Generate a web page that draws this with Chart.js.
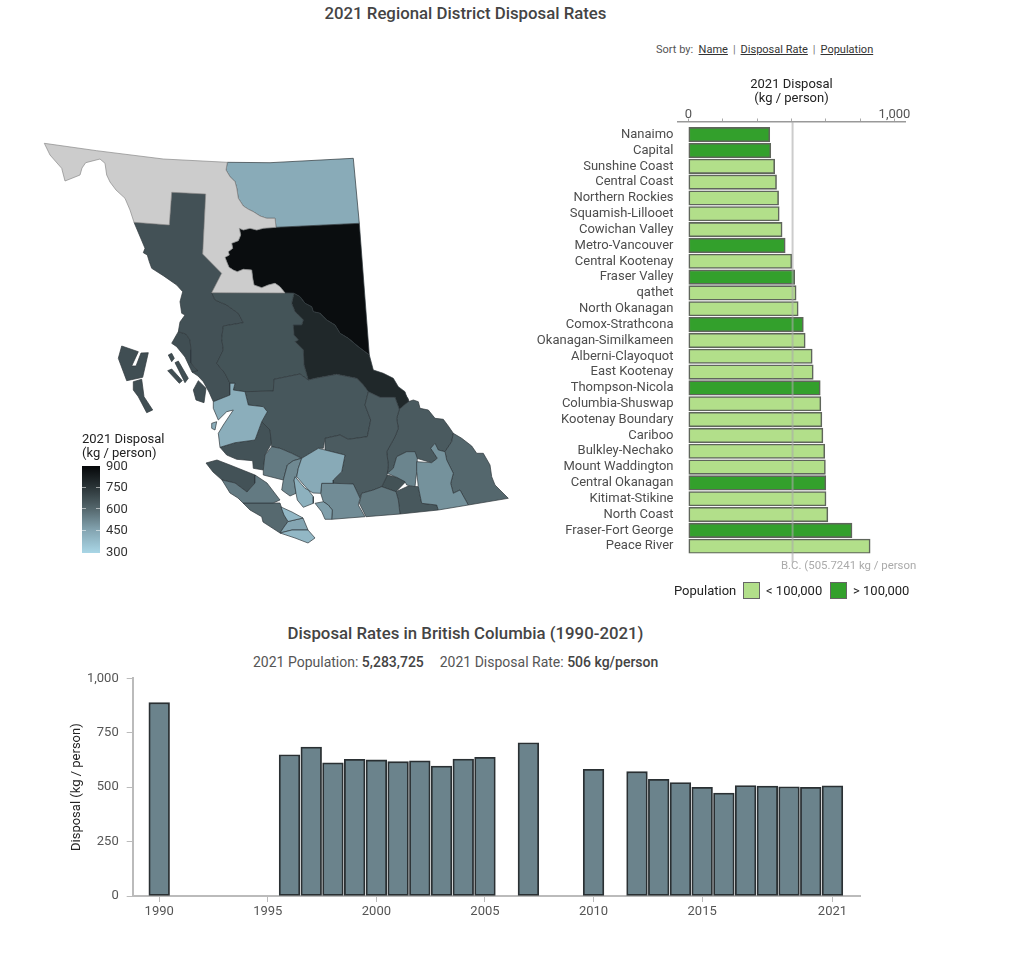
<!DOCTYPE html>
<html>
<head>
<meta charset="utf-8">
<title>2021 Regional District Disposal Rates</title>
<script src="https://cdn.jsdelivr.net/npm/chart.js@4"></script>
<style>
  html, body { margin: 0; background: #fff; }
  #page { position: relative; width: 1018px; height: 953px; overflow: hidden; font-family: Roboto, sans-serif; color: #4d4d4d; }
  #page canvas { position: absolute; display: block; }
  .txt { position: absolute; white-space: nowrap; line-height: 1; }
  .title { left: 0; width: 931px; text-align: center; font-size: 16.8px; font-weight: 500; color: #444; }
  .sw { position: absolute; width: 15px; height: 14.5px; border: 1px solid #666; }
  .sort a { color: #333; text-decoration: underline; }
  .sort span { color: #777; margin: 0 5px; }
</style>
</head>
<body>
<div id="page">
  <div class="txt title" style="top:5px">2021 Regional District Disposal Rates</div>
  <div class="txt sort" style="left:656px;top:44px;font-size:11px;color:#555">Sort by: &nbsp;<a>Name</a><span>|</span><a>Disposal Rate</a><span>|</span><a>Population</a></div>

  <canvas id="mapChart" width="490" height="430" style="left:30px;top:130px"></canvas>
  <div class="txt" style="left:82px;top:432px;font-size:13px;line-height:14px;color:#222">2021 Disposal<br>(kg / person)</div>
  <div id="rampBar" style="position:absolute;left:82px;top:466px;width:18px;height:87px"></div>
  <div id="rampTicks"></div>

  <canvas id="barChart" width="420" height="500" style="left:520px;top:75px"></canvas>
  <div class="txt" style="left:781px;top:559.5px;font-size:11.4px;color:#aaa">B.C. (505.7241 kg / person</div>
  <div class="txt" style="left:674px;top:584px;font-size:13px;color:#222">Population</div>
  <div class="sw" style="left:743px;top:582px;background:#b2df8a"></div>
  <div class="txt" style="left:766px;top:584px;font-size:13px;color:#222">&lt; 100,000</div>
  <div class="sw" style="left:830px;top:582px;background:#33a02c"></div>
  <div class="txt" style="left:853px;top:584px;font-size:13px;color:#222">&gt; 100,000</div>

  <div class="txt title" style="top:625px">Disposal Rates in British Columbia (1990-2021)</div>
  <div class="txt" style="left:253px;top:655px;font-size:14px;color:#555">2021 Population: <b style="font-weight:500;color:#444">5,283,725</b> &nbsp;&nbsp; <span style="margin-left:2px">2021 Disposal Rate: </span><b style="font-weight:500;color:#444">506 kg/person</b></div>
  <canvas id="yearChart" width="830" height="270" style="left:50px;top:660px"></canvas>
</div>

<script>
/* ---------- Data: regional districts ---------- */
const districtNames = ["Nanaimo", "Capital", "Sunshine Coast", "Central Coast", "Northern Rockies", "Squamish-Lillooet", "Cowichan Valley", "Metro-Vancouver", "Central Kootenay", "Fraser Valley", "qathet", "North Okanagan", "Comox-Strathcona", "Okanagan-Similkameen", "Alberni-Clayoquot", "East Kootenay", "Thompson-Nicola", "Columbia-Shuswap", "Kootenay Boundary", "Cariboo", "Bulkley-Nechako", "Mount Waddington", "Central Okanagan", "Kitimat-Stikine", "North Coast", "Fraser-Fort George", "Peace River"];
const districtRates = [395, 400, 419, 428, 438, 441, 455, 470, 502, 516, 523, 533, 558, 567, 601, 606, 640, 643, 648, 653, 662, 665, 667, 668, 677, 794, 882];
const overHundredK = ["Nanaimo", "Capital", "Metro-Vancouver", "Fraser Valley", "Comox-Strathcona", "Thompson-Nicola", "Central Okanagan", "Fraser-Fort George"];
const rateTicks = [0, 166.67, 333.33, 500, 666.67, 833.33, 1000];
const bcRate = 505.7241;

/* ---------- Data: province by year ---------- */
const years = [1990, 1996, 1997, 1998, 1999, 2000, 2001, 2002, 2003, 2004, 2005, 2007, 2010, 2012, 2013, 2014, 2015, 2016, 2017, 2018, 2019, 2020, 2021];
const yearRates = [888, 649, 684, 612, 628, 625, 617, 621, 597, 629, 637, 704, 582, 571, 536, 521, 499, 473, 507, 505, 502, 499, 506];
const yearTicks = [1990, 1995, 2000, 2005, 2010, 2015, 2021];
const yearRateTicks = [0, 250, 500, 750, 1000];

/* ---------- Data: colour legend ---------- */
const rampValues = [300, 450, 600, 750, 900];
const rampColors = ["#a9d6e6", "#86a7b4", "#56696f", "#2b3538", "#050709"];

/* ---------- Data: map outlines, [x, y] in map units, grouped by district ---------- */
// shared edges first, so neighbours stay in step
const rockiesEdge = [[227.3,162.3],[226,170],[230,176.7],[235,181.7],[236.7,188],[238.3,198.3],[243.3,206],[248.3,209.3],[253.3,211.7],[260,216],[266.7,218.3],[275,218.3],[276,227.3]];
const peaceWestEdge = [[276,227.3],[263.3,228.3],[256.7,230],[250,228.3],[243.3,230],[239.3,228.3],[240.7,235],[238.3,240.7],[231.7,243.3],[232.7,248.3],[228.3,251.7],[229.3,255],[225,257.3],[226.7,261.7],[229,267.3],[233.3,270],[237.3,271.7],[243.3,269.3],[251.7,270],[252.7,278.3],[254,285],[261.7,287.7],[268.3,285],[275,283.3],[280,286.7],[285,293]];
const peaceGeorgeEdge = [[294,293.3],[300,296.7],[305,303.3],[311.7,306.7],[313.3,311.7],[320,313.3],[326.7,320],[335,325],[340,333.3],[348.3,338.3],[358.3,346.7],[369.3,355]];

const stikineShape = [[44.3,143.3],[96.7,150.7],[163.3,159],...rockiesEdge,...peaceWestEdge,[211.7,292.7],[221.7,273.3],[202.7,254],[205.7,194],[171.7,192.3],[169.3,225],[134,222.3],[130,210],[125,198.3],[116,190],[110,182],[106.7,175],[105,163.3],[100,159],[85.7,162.7],[82,168],[80,175],[65,181],[61.7,168.3],[50,155]];
const northernRockiesShape = [[270,162.7],[353.3,158.3],[359.3,223.3],...[...rockiesEdge].reverse()];
const peaceRiverShape = [[359.3,223.3],[369.3,355],...[...peaceGeorgeEdge].reverse(),...[...peaceWestEdge].reverse()];
const peaceRiverTip = [[403,391],[408.3,399],[409,402],[403.5,405],[399,396]];
const fraserFortGeorgeShape = [...peaceGeorgeEdge,[373.3,370],[383.3,373.3],[393.3,378.3],[398.3,386.7],[405,391.7],[408.3,401.7],[399.3,409.3],[395,397.3],[380,397.3],[368.3,391.7],[363.3,385],[356.7,378.3],[336.7,374.3],[315,378.3],[308.3,380],[304,365],[303.3,350],[295,341.7],[298.3,340],[294,335],[293.3,325],[301.7,325],[303.3,320],[295,311.7],[291.7,303.3]];
const bulkleyShape = [[211.7,292.7],[285,293],[294,293.3],[291.7,303.3],[295,311.7],[303.3,320],[301.7,325],[293.3,325],[294,335],[298.3,340],[295,341.7],[303.3,350],[304,365],[308.3,380],[300,374],[274,379.3],[273.3,391],[245,391.7],[233.3,390],[235,383.3],[230,383.3],[225,373.3],[216.7,363.3],[223.3,350],[221.7,338.3],[223.3,326],[243.3,322.7],[238.3,313.3],[226.7,305],[215,300]];
const kitimatShape = [[134,222.3],[169.3,225],[171.7,192.3],[205.7,194],[202.7,254],[221.7,273.3],[211.7,292.7],[215,300],[226.7,305],[238.3,313.3],[243.3,322.7],[223.3,326],[221.7,338.3],[223.3,350],[216.7,363.3],[225,373.3],[230,383.3],[230,395],[213.3,401.7],[209,392],[203.3,381.7],[198,376],[192,372],[198,371],[191,363],[191,350],[190,340],[186,334],[178.3,331.7],[180,322],[185,315],[181.7,313.3],[180,301.7],[182.7,291.7],[176.7,285],[163.3,275.7],[151.7,268.3],[149.3,261.7],[147.3,255],[143.3,252.7],[145,248.3]];
const northCoastStrip = [[178.3,331.7],[186,334],[190,340],[191,350],[191,363],[198,371],[192,372],[185,357],[176.7,346.7],[171.7,343.3]];
const haidaNorth = [[121.7,346],[138.3,351.7],[131.7,366],[136,366],[141,353],[148.3,352.7],[142.7,377.3],[126.7,380.7],[118.3,358.3]];
const haidaSouth = [[133.3,381.7],[141.7,379.3],[144,396.7],[152.7,410],[146.7,412.7],[138.3,396.7],[133.3,390]];
const coastIsleA = [[168.3,355],[171.7,353.3],[174.3,358.3],[171.7,361.7]];
const coastIsleB = [[167.7,370.7],[171.7,369],[182.3,380.7],[179.3,383.3]];
const coastIsleC = [[175,362.7],[178.3,361],[188.3,378.3],[185,382.7]];
const coastIsleD = [[198.3,380.7],[206,388.3],[204,402.7],[196,400],[193.3,390]];
const centralCoastShape = [[213.3,401.7],[230,395],[230,383.3],[235,383.3],[233.3,390],[245,391.7],[248.3,405],[263.3,406.7],[267.3,411.7],[261.7,421.7],[255,440],[235,442.7],[220,447.3],[218.3,433.3],[223.3,425],[233.3,410],[226.7,411.7],[218.3,420],[213.3,408.3]];
const centralCoastIsle = [[211.7,423.3],[216.7,421.7],[215,430],[211.7,428.3]];
const waddingtonMainland = [[220,447.3],[235,442.7],[255,440],[261.7,421.7],[270,430],[271.7,443.3],[265,455],[263.3,470],[253.3,468.3],[252.7,460.7],[236.7,459.3],[226.7,455]];
const waddingtonIsland = [[206,463],[217,460],[230,465],[255,475],[255,483],[247,492],[235,483],[222,480],[213,472]];
const comoxIsland = [[222,480],[235,483],[247,492],[255,483],[255,475],[267,483],[280,500],[273,503],[247,503],[243,503],[238,498],[230,493]];
const comoxMainland = [[271.7,446.7],[280,448.3],[291.7,453.3],[301.7,458.3],[293.3,460.7],[287.3,465],[283.3,480],[263.3,475],[263.3,470],[265,455]];
const alberniShape = [[243,503],[273,503],[280,503],[284,515],[288,521.5],[284,527],[280,533],[263,522],[261.7,516.7],[250,510]];
const nanaimoShape = [[281,507],[292,512],[303,518],[288,521.5],[284,515]];
const cowichanShape = [[288,521.5],[303,518],[308,530],[292,530],[280,533],[284,527]];
const capitalShape = [[280,533],[292,530],[308,530],[315,538],[308,543],[295,538]];
const caribooShape = [[245,391.7],[273.3,391],[274,379.3],[300,374],[308.3,380],[315,378.3],[336.7,374.3],[356.7,378.3],[363.3,385],[368.3,391.7],[365,405],[370.7,420],[367.3,436.7],[348.3,439.3],[340,435],[325,438.3],[323.3,448.3],[318.3,448.3],[301.7,458.3],[291.7,453.3],[280,448.3],[271.7,446.7],[270,430],[261.7,421.7],[267.3,411.7],[263.3,406.7],[248.3,405]];
const squamishShape = [[301.7,458.3],[318.3,448.3],[325,450],[345,455],[341.7,471.7],[333.3,480],[333.3,483.3],[321.7,483.3],[320.7,493.3],[313,493],[308.3,490],[296.7,476.7],[298.3,468.3]];
const qathetShape = [[293.3,460.7],[301.7,458.3],[298.3,468.3],[296.7,476.7],[294,480],[296,493.3],[290,496],[281.7,490],[283.3,480],[287.3,465]];
const sunshineShape = [[295,476.7],[305,488.3],[308.3,490],[313.3,496.7],[313.3,503.3],[303.3,507.3],[297.3,500],[296,493.3],[294,480]];
const metroShape = [[315,503.3],[323.3,501.7],[328.3,505],[332.3,510],[331.7,519.3],[325,519.3],[321.7,511.7]];
const fraserValleyShape = [[321.7,483.3],[333.3,483.3],[353.3,484],[360,498.3],[358.3,505],[365,516.7],[331.7,519.3],[332.3,510],[328.3,505],[323.3,501.7],[320.7,493.3]];
const thompsonShape = [[368.3,391.7],[380,397.3],[395,397.3],[399.3,409.3],[396.7,418.3],[398.3,428.3],[395,436.7],[386.7,451.7],[388.3,465],[387.3,473.3],[386.7,476.7],[381.7,486.7],[373.3,490],[361.7,493.3],[360,498.3],[353.3,484],[333.3,483.3],[333.3,480],[341.7,471.7],[345,455],[325,450],[325,438.3],[340,435],[348.3,439.3],[367.3,436.7],[370.7,420],[365,405]];
const columbiaShape = [[399.3,409.3],[408.3,401.7],[413.3,400],[418.3,401.7],[420,408.3],[428.3,410],[435,418.3],[443.3,419.3],[448.3,426],[453.3,433.3],[451.7,441.7],[445,451.7],[438.3,450],[435,443.3],[430.7,448.3],[437.3,458.3],[431.7,462.7],[416.7,458.3],[415,451.7],[406.7,451.7],[396.7,456.7],[393.3,468.3],[387.3,473.3],[388.3,465],[386.7,451.7],[395,436.7],[398.3,428.3],[396.7,418.3]];
const northOkanaganShape = [[396.7,456.7],[406.7,451.7],[415,451.7],[417.3,458.3],[416.7,471.7],[415,486.7],[406.7,485],[405,481.7],[396.7,477.3],[387.3,473.3],[393.3,468.3]];
const centralOkanaganShape = [[387.3,475],[396.7,477.3],[406.7,480.7],[396,491.7],[381.7,486.7]];
const kootenayBoundaryShape = [[396,491.7],[408.3,486],[418.3,486.7],[421.7,503.3],[436.7,505],[438.3,510],[400,514],[398.3,500]];
const similkameenShape = [[361.7,493.3],[373.3,490],[381.7,486.7],[396,491.7],[398.3,500],[400,514],[366,516.7],[359.3,503.3]];
const centralKootenayShape = [[416.7,461.7],[431.7,462.7],[437.3,458.3],[430.7,448.3],[435,443.3],[438.3,450],[445,451.7],[446.7,460],[453.3,473.3],[450.7,483.3],[453.3,493.3],[460,490],[468.3,505],[438.3,510],[436.7,505],[421.7,503.3],[418.3,486.7],[416.7,471.7]];
const eastKootenayShape = [[453.3,433.3],[461.7,438.3],[471.7,446],[476.7,453.3],[483.3,453.3],[490,465],[491.7,476.7],[495,485],[508.3,498.3],[468.3,505],[460,490],[453.3,493.3],[450.7,483.3],[453.3,473.3],[446.7,460],[445,451.7],[451.7,441.7]];

const districtShapes = {
  "Northern Rockies": [northernRockiesShape],
  "Peace River": [peaceRiverShape, peaceRiverTip],
  "Fraser-Fort George": [fraserFortGeorgeShape],
  "Bulkley-Nechako": [bulkleyShape],
  "Kitimat-Stikine": [kitimatShape],
  "North Coast": [northCoastStrip, haidaNorth, haidaSouth, coastIsleA, coastIsleB, coastIsleC, coastIsleD],
  "Central Coast": [centralCoastShape, centralCoastIsle],
  "Mount Waddington": [waddingtonMainland, waddingtonIsland],
  "Comox-Strathcona": [comoxIsland, comoxMainland],
  "Alberni-Clayoquot": [alberniShape],
  "Nanaimo": [nanaimoShape],
  "Cowichan Valley": [cowichanShape],
  "Capital": [capitalShape],
  "Cariboo": [caribooShape],
  "Squamish-Lillooet": [squamishShape],
  "qathet": [qathetShape],
  "Sunshine Coast": [sunshineShape],
  "Metro-Vancouver": [metroShape],
  "Fraser Valley": [fraserValleyShape],
  "Thompson-Nicola": [thompsonShape],
  "Columbia-Shuswap": [columbiaShape],
  "North Okanagan": [northOkanaganShape],
  "Central Okanagan": [centralOkanaganShape],
  "Kootenay Boundary": [kootenayBoundaryShape],
  "Okanagan-Similkameen": [similkameenShape],
  "Central Kootenay": [centralKootenayShape],
  "East Kootenay": [eastKootenayShape],
};

/* ---------- Shared helpers ---------- */
Chart.defaults.font.family = "Roboto, sans-serif";
Chart.defaults.animation = false;
Chart.defaults.devicePixelRatio = 1;
Chart.defaults.plugins.legend.display = false;
Chart.defaults.plugins.tooltip.enabled = false;

function hexToRgb(hex) {
  return [1, 3, 5].map((i) => parseInt(hex.slice(i, i + 2), 16));
}

// colour for a rate
function rampColor(v) {
  let i = 0;
  while (i < rampValues.length - 2 && v > rampValues[i + 1]) i++;
  const t = (v - rampValues[i]) / (rampValues[i + 1] - rampValues[i]);
  const a = hexToRgb(rampColors[i]);
  const b = hexToRgb(rampColors[i + 1]);
  return `rgb(${a.map((c, k) => Math.round(c + (b[k] - c) * t)).join(",")})`;
}

function shapeDataset(shape, fillColor, lineColor) {
  const pts = shape.concat([shape[0]]).map((p) => ({ x: p[0], y: p[1] }));
  return {
    data: pts,
    showLine: true,
    fill: "shape",
    tension: 0,
    pointRadius: 0,
    borderWidth: 0.7,
    borderColor: lineColor,
    backgroundColor: fillColor,
  };
}

/* ---------- Map ---------- */
const mapDatasets = [shapeDataset(stikineShape, "#cccccc", "#8a8a8a")];
districtNames.forEach((name, i) => {
  (districtShapes[name] || []).forEach((shape) => {
    mapDatasets.push(shapeDataset(shape, rampColor(districtRates[i]), "#2f383c"));
  });
});

new Chart(document.getElementById("mapChart"), {
  type: "scatter",
  data: { datasets: mapDatasets },
  options: {
    responsive: false,
    scales: {
      x: { display: false, min: 30, max: 520 },
      y: { display: false, min: 130, max: 560, reverse: true },
    },
  },
});

// colour legend
const rampStops = rampValues.map((v, i) => `${rampColors[i]} ${((v - 300) / 6).toFixed(1)}%`).join(",");
document.getElementById("rampBar").style.background = `linear-gradient(to top, ${rampStops})`;
document.getElementById("rampTicks").innerHTML = rampValues
  .map((v) => {
    const y = 551.5 - ((v - 300) / 600) * 86.5;
    const marks = v > 300 && v < 900
      ? `<i style="position:absolute;left:82px;top:${y}px;width:4px;height:1px;background:#ffffff88"></i><i style="position:absolute;left:96px;top:${y}px;width:4px;height:1px;background:#ffffff88"></i>`
      : "";
    return `${marks}<div class="txt" style="left:106px;top:${y - 6.5}px;font-size:13px;color:#333">${v}</div>`;
  })
  .join("");

/* ---------- Bars by district ---------- */
const bcLine = {
  id: "bcLine",
  afterDatasetsDraw(chart) {
    const x = chart.scales.x.getPixelForValue(bcRate);
    const { ctx, chartArea } = chart;
    ctx.save();
    ctx.strokeStyle = "rgba(170,170,170,0.6)";
    ctx.lineWidth = 2;
    ctx.beginPath();
    ctx.moveTo(x, chartArea.top);
    ctx.lineTo(x, chartArea.bottom + 9);
    ctx.stroke();
    ctx.restore();
  },
};

new Chart(document.getElementById("barChart"), {
  type: "bar",
  plugins: [bcLine],
  data: {
    datasets: [{
      data: districtRates.map((r, i) => ({ x: r, y: i })),
      backgroundColor: districtNames.map((n) => (overHundredK.includes(n) ? "#33a02c" : "#b2df8a")),
      borderColor: "#5f665b",
      borderWidth: 1.6,
      borderSkipped: false,
      barThickness: 14.5,
    }],
  },
  options: {
    responsive: false,
    indexAxis: "y",
    layout: { padding: { right: 35, bottom: 21.5 } },
    scales: {
      x: {
        position: "top",
        min: -50,
        max: 1051,
        afterFit(s) { s.height = 46.5; },
        afterBuildTicks(s) { s.ticks = rateTicks.map((v) => ({ value: v })); },
        title: { display: true, text: ["2021 Disposal", "(kg / person)"], color: "#222", font: { size: 13, lineHeight: 1.08 }, padding: { top: 2.5, bottom: 0 } },
        grid: { drawOnChartArea: false, tickLength: 3, color: "#aaa" },
        border: { color: "#999", width: 1.5 },
        ticks: {
          autoSkip: false,
          maxRotation: 0,
          padding: -3.7,
          color: "#555",
          font: { size: 13 },
          callback: (v) => (v === 0 ? "0" : v === 1000 ? "1,000" : ""),
        },
      },
      y: {
        type: "linear",
        reverse: true,
        offset: false,
        min: -0.83,
        max: 26.46,
        afterFit(s) { s.width = 158; },
        afterBuildTicks(s) { s.ticks = districtNames.map((n, i) => ({ value: i })); },
        grid: { display: false, drawTicks: false, offset: false },
        border: { display: false },
        ticks: { autoSkip: false, padding: 4.5, color: "#4d4d4d", font: { size: 13 }, callback: (v) => districtNames[v] },
      },
    },
  },
});

/* ---------- Bars by year ---------- */
new Chart(document.getElementById("yearChart"), {
  type: "bar",
  data: {
    datasets: [{
      data: years.map((y, i) => ({ x: y, y: yearRates[i] })),
      backgroundColor: "#6b838c",
      borderColor: "#2a3033",
      borderWidth: 1.8,
      borderSkipped: false,
      barThickness: 20.7,
    }],
  },
  options: {
    responsive: false,
    layout: { padding: { top: 18.3, right: 19.3 } },
    scales: {
      x: {
        type: "linear",
        offset: false,
        min: 1988.78,
        max: 2022.3,
        afterFit(s) { s.height = 34; },
        afterBuildTicks(s) { s.ticks = yearTicks.map((v) => ({ value: v })); },
        grid: { drawOnChartArea: false, tickLength: 6, color: "#bbb", offset: false },
        border: { color: "#bbb", width: 2 },
        ticks: { autoSkip: false, maxRotation: 0, padding: 2, color: "#555", font: { size: 13 }, callback: (v) => String(v) },
      },
      y: {
        min: 0,
        max: 1000,
        afterFit(s) { s.width = 82.7; },
        afterBuildTicks(s) { s.ticks = yearRateTicks.map((v) => ({ value: v })); },
        title: { display: false },
        grid: { drawOnChartArea: false, tickLength: 6, color: "#bbb" },
        border: { color: "#bbb", width: 2 },
        ticks: { padding: 8, color: "#555", font: { size: 13 }, callback: (v) => v.toLocaleString("en-US") },
      },
    },
  },
  plugins: [{
    id: "yTitle",
    afterDraw(chart) {
      const { ctx } = chart;
      const y = chart.scales.y;
      ctx.save();
      ctx.translate(27, (y.top + y.bottom) / 2);
      ctx.rotate(-Math.PI / 2);
      ctx.textAlign = "center";
      ctx.textBaseline = "middle";
      ctx.fillStyle = "#222";
      ctx.font = "13px Roboto, sans-serif";
      ctx.fillText("Disposal (kg / person)", 0, 0);
      ctx.restore();
    },
  }],
});
</script>
</body>
</html>
